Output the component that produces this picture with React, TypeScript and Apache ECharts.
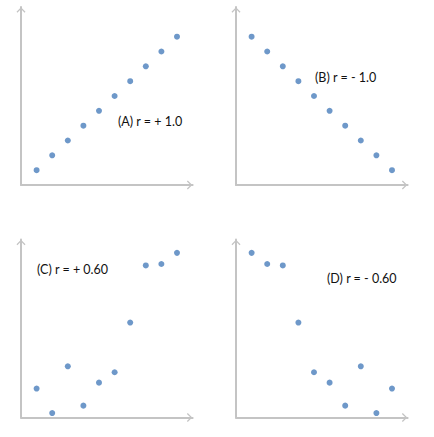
import React, { useEffect, useRef } from "react";
import * as echarts from "echarts";

const xValues = [1, 2, 3, 4, 5, 6, 7, 8, 9, 10];
const seriesA = [1, 2, 3, 4, 5, 6, 7, 8, 9, 10];
const seriesB = [10, 9, 8, 7, 6, 5, 4, 3, 2, 1];
const seriesC = [1.95, 0.3, 3.45, 0.8, 2.35, 3.05, 6.4, 10.25, 10.35, 11.1];
const seriesD = [11.1, 10.35, 10.25, 6.4, 3.05, 2.35, 0.8, 3.45, 0.3, 1.95];
const panelLabels = ["(A) r = + 1.0", "(B) r = - 1.0", "(C) r = + 0.60", "(D) r = - 0.60"];

const X_MAX = 11;
const Y_MAX = 12;

const grids = [
  { left: 21, top: 7, width: 171.6, height: 178 },
  { left: 236, top: 7, width: 171.6, height: 178 },
  { left: 21, top: 239.5, width: 171.6, height: 178 },
  { left: 236, top: 239.5, width: 171.6, height: 178 },
];

const labelPos = [
  { x: 118, y: 121 },
  { x: 315, y: 77 },
  { x: 37, y: 269.5 },
  { x: 327, y: 278 },
];

const chevron = "path://M10,0 L20,10 L18,12 L10,4 L2,12 L0,10 Z";

export default function App() {
  const ref = useRef<HTMLDivElement>(null);
  useEffect(() => {
    if (!ref.current) return;
    const chart = echarts.init(ref.current, undefined, { renderer: "svg" });
    const all = [seriesA, seriesB, seriesC, seriesD];
    const axisLine = {
      show: true,
      onZero: false,
      symbol: ["none", chevron],
      symbolSize: [9, 6],
      symbolOffset: [0, -3],
      lineStyle: { color: "#C4C4C4", width: 2 },
    };
    const common = {
      type: "value" as const,
      min: 0,
      axisLine,
      axisTick: { show: false },
      axisLabel: { show: false },
      splitLine: { show: false },
    };
    chart.setOption({
      animation: false,
      backgroundColor: "#ffffff",
      grid: grids.map((g) => ({ ...g, containLabel: false })),
      xAxis: grids.map((_, i) => ({ ...common, gridIndex: i, max: X_MAX })),
      yAxis: grids.map((_, i) => ({ ...common, gridIndex: i, max: Y_MAX })),
      series: all.map((s, i) => ({
        type: "scatter",
        xAxisIndex: i,
        yAxisIndex: i,
        symbolSize: 6,
        itemStyle: { color: "#4A7EBB" },
        data: xValues.map((x, j) => [x, s[j]]),
      })),
      graphic: panelLabels.map((t, i) => ({
        type: "text",
        x: labelPos[i].x,
        y: labelPos[i].y,
        style: {
          text: t,
          fill: "#111111",
          font: '12.5px "Lato"',
          textVerticalAlign: "middle",
        },
      })),
    });
    return () => chart.dispose();
  }, []);
  return (
    <div
      ref={ref}
      style={{ position: "absolute", left: 0, top: 0, width: 434, height: 437 }}
    />
  );
}
